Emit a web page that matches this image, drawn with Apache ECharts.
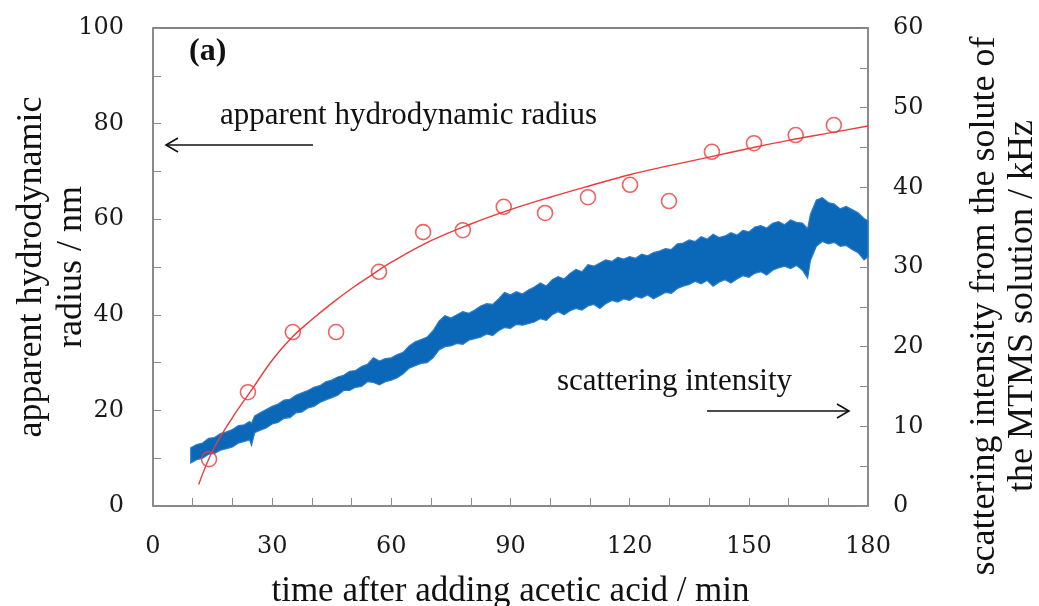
<!DOCTYPE html>
<html>
<head>
<meta charset="utf-8">
<script src="https://cdn.jsdelivr.net/npm/echarts@6/dist/echarts.min.js"></script>
<style>
html,body{margin:0;padding:0;background:#fff;}
#chart{width:1039px;height:606px;}
</style>
</head>
<body>
<div id="chart"></div>
<script>
// ---- data ----
// apparent hydrodynamic radius (nm), measured points
const radiusTime = [14.1, 23.9, 35.2, 46.1, 56.9, 68.0, 78.0, 88.3, 98.7, 109.5, 120.1, 129.9, 140.7, 151.3, 161.8, 171.4, 180.2];
const radiusValue = [9.8, 23.8, 36.4, 36.4, 49.0, 57.3, 57.7, 62.6, 61.3, 64.6, 67.2, 63.8, 74.1, 75.9, 77.6, 79.7, 81.2];
// fitted curve
const fitTime = [11.5, 15, 20, 25, 30, 35, 40, 45, 50, 55, 60, 70, 80, 90, 100, 110, 120, 130, 140, 150, 160, 170, 180];
const fitValue = [4.5, 11.5, 18.5, 24.5, 30.5, 35.3, 39.0, 42.4, 45.5, 48.3, 51.0, 55.5, 59.0, 62.0, 64.6, 67.0, 69.3, 71.2, 73.0, 74.8, 76.5, 78.0, 79.5];
// scattering intensity (kHz): lower / upper envelope of the noisy trace
const blueTime = [9.5, 11, 12.5, 14, 15.5, 17, 18.5, 20, 21.5, 23, 24.3, 24.8, 25.6, 27, 28.5, 30, 31.5, 33, 34.5, 36, 37.5, 39, 40.5, 42, 43.5, 45, 46.5, 48, 49.5, 51, 52.5, 54, 55.5, 57, 58.5, 60, 61.5, 63, 64.5, 66, 67.5, 69, 70.5, 72, 73.5, 75, 76.5, 78, 79.5, 81, 82.5, 84, 85.5, 87, 88.5, 90, 91.5, 93, 94.5, 96, 97.5, 99, 100.5, 102, 103.5, 105, 106.5, 108, 109.5, 111, 112.5, 114, 115.5, 117, 118.5, 120, 121.5, 123, 124.5, 126, 127.5, 129, 130.5, 132, 133.5, 135, 136.5, 138, 139.5, 141, 142.5, 144, 145.5, 147, 148.5, 150, 151.5, 153, 154.5, 156, 157.5, 159, 160.5, 162, 163.5, 164.8, 165.5, 167, 168.5, 170, 171.5, 173, 174.5, 176, 177.5, 179, 180];
const blueLow = [5.4, 5.8, 6.0, 6.5, 6.6, 7.0, 7.2, 7.4, 7.9, 8.1, 8.3, 7.6, 9.2, 9.5, 9.8, 10.3, 10.5, 11.0, 11.1, 11.7, 11.8, 12.3, 12.5, 13.0, 13.3, 13.6, 13.9, 14.5, 14.5, 14.9, 15.0, 15.6, 15.5, 15.2, 15.6, 15.8, 16.1, 16.6, 17.3, 17.6, 17.9, 18.0, 18.6, 19.6, 20.0, 20.1, 20.4, 20.3, 20.8, 21.0, 21.2, 21.6, 21.4, 22.0, 22.4, 22.3, 22.8, 22.7, 22.9, 23.1, 23.5, 23.3, 24.0, 24.4, 24.0, 24.5, 24.8, 24.6, 25.1, 25.3, 24.8, 25.4, 25.8, 25.6, 26.0, 25.8, 26.3, 26.1, 26.5, 26.0, 26.4, 26.8, 26.7, 27.3, 27.6, 27.8, 28.2, 27.9, 28.3, 27.6, 28.1, 28.4, 28.0, 28.5, 28.9, 28.7, 29.2, 29.4, 29.0, 29.6, 29.9, 30.1, 29.8, 30.2, 29.6, 28.6, 30.8, 32.6, 33.2, 32.9, 33.1, 32.6, 32.7, 32.2, 31.8, 30.9, 31.3];
const blueHigh = [7.3, 7.7, 7.9, 8.5, 8.6, 9.1, 9.3, 9.6, 10.1, 10.2, 10.6, 10.4, 11.3, 11.7, 12.1, 12.5, 12.8, 13.3, 13.4, 13.9, 14.2, 14.5, 14.9, 15.1, 15.6, 15.8, 16.2, 16.4, 16.9, 17.0, 17.5, 17.8, 18.6, 18.2, 18.5, 18.6, 19.0, 19.3, 20.1, 20.6, 20.9, 21.2, 22.0, 23.2, 23.9, 23.6, 24.0, 24.4, 24.2, 24.6, 25.1, 25.4, 25.3, 26.0, 26.8, 26.5, 26.9, 26.6, 27.1, 27.5, 28.0, 27.6, 28.4, 28.8, 28.5, 29.2, 29.7, 29.4, 30.3, 30.1, 30.5, 30.9, 30.7, 31.2, 31.0, 31.3, 31.1, 31.6, 31.4, 31.8, 32.0, 32.3, 32.2, 32.9, 33.0, 33.4, 33.2, 33.8, 33.5, 34.1, 33.7, 33.9, 34.3, 34.0, 34.6, 34.4, 35.0, 35.2, 34.9, 35.5, 35.7, 35.3, 35.9, 35.6, 35.5, 34.8, 36.6, 38.4, 38.7, 38.1, 37.9, 37.3, 37.6, 37.2, 36.8, 36.1, 35.8];
// axes
const xTicks = [0, 30, 60, 90, 120, 150, 180];
const leftTicks = [0, 20, 40, 60, 80, 100];
const rightTicks = [0, 10, 20, 30, 40, 50, 60];

const numFont = '"DejaVu Serif", serif';
const txtFont = '"Liberation Serif", "Times New Roman", serif';
const axisGray = '#8c8c8c';

const chart = echarts.init(document.getElementById('chart'), null, {renderer: 'canvas'});

const option = {
  animation: false,
  backgroundColor: '#ffffff',
  grid: {left: 153, right: 171, top: 28, bottom: 100, containLabel: false, outerBoundsMode: 'none',
         show: true, borderColor: '#5a5a5a', borderWidth: 1.5, backgroundColor: 'transparent'},
  xAxis: {
    type: 'value', min: 0, max: 180, interval: 10,
    name: 'time after adding acetic acid / min', nameLocation: 'middle', nameGap: 68, nameMoveOverlap: false,
    nameTextStyle: {fontFamily: txtFont, fontSize: 35, color: '#111'},
    axisLine: {show: true, lineStyle: {color: axisGray, width: 1.5}},
    axisTick: {show: true, inside: true, length: 8, lineStyle: {color: axisGray}},
    splitLine: {show: false},
    axisLabel: {
      fontFamily: numFont, fontSize: 24, color: '#1a1a1a', margin: 29,
      formatter: v => (xTicks.indexOf(v) >= 0 ? String(v) : '')
    }
  },
  yAxis: [
    {
      type: 'value', min: 0, max: 100, interval: 10, position: 'left',
      name: 'apparent hydrodynamic\nradius / nm', nameLocation: 'middle', nameGap: 61, nameRotate: 90, nameMoveOverlap: false,
      nameTextStyle: {fontFamily: txtFont, fontSize: 36, color: '#111', lineHeight: 40},
      axisLine: {show: true, lineStyle: {color: axisGray, width: 1.5}},
      axisTick: {show: true, inside: true, length: 8, lineStyle: {color: axisGray}},
      splitLine: {show: false},
      axisLabel: {
        fontFamily: numFont, fontSize: 24, color: '#1a1a1a', margin: 29,
        formatter: v => (leftTicks.indexOf(v) >= 0 ? String(v) : '')
      }
    },
    {
      type: 'value', min: 0, max: 60, interval: 5, position: 'right',
      name: 'scattering intensity from the solute of\nthe MTMS solution / kHz', nameLocation: 'middle', nameGap: 98, nameRotate: 90, nameMoveOverlap: false,
      nameTextStyle: {fontFamily: txtFont, fontSize: 36, color: '#111', lineHeight: 38, padding: [0, 78, 0, 0]},
      axisLine: {show: true, lineStyle: {color: axisGray, width: 1.5}},
      axisTick: {show: true, inside: true, length: 8, lineStyle: {color: axisGray}},
      splitLine: {show: false},
      axisLabel: {
        fontFamily: numFont, fontSize: 24, color: '#1a1a1a', margin: 25,
        formatter: v => (rightTicks.indexOf(v) >= 0 ? String(v) : '')
      }
    }
  ],
  series: [
    {
      name: 'scattering intensity', type: 'custom', yAxisIndex: 1, z: 1,
      data: blueTime.map((t, i) => [t, blueLow[i], blueHigh[i]]),
      encode: {x: 0, y: [1, 2]},
      renderItem: function (params, api) {
        if (params.dataIndex !== 0) return null;
        const pts = [];
        for (let i = 0; i < blueTime.length; i++) pts.push(api.coord([blueTime[i], blueHigh[i]]));
        for (let i = blueTime.length - 1; i >= 0; i--) pts.push(api.coord([blueTime[i], blueLow[i]]));
        return {
          type: 'polygon',
          shape: {points: pts},
          style: {fill: '#0b68b9', stroke: '#2a7cc6', lineWidth: 1.2}
        };
      }
    },
    {
      name: 'fit', type: 'line', yAxisIndex: 0, z: 3,
      data: fitTime.map((t, i) => [t, fitValue[i]]),
      smooth: 0.4, showSymbol: false, symbol: 'none',
      lineStyle: {color: '#ec3b3b', width: 1.4}
    },
    {
      name: 'apparent hydrodynamic radius', type: 'scatter', yAxisIndex: 0, z: 4,
      data: radiusTime.map((t, i) => [t, radiusValue[i]]),
      symbol: 'circle', symbolSize: 15,
      itemStyle: {color: 'rgba(255,255,255,0)', borderColor: '#ee3a3a', borderWidth: 1.6}
    }
  ],
  graphic: [
    {type: 'text', left: 189, top: 36, z: 10,
     style: {text: '(a)', font: 'bold 32px "Liberation Serif", serif', fill: '#111'}},
    {type: 'text', left: 220, top: 100, z: 10,
     style: {text: 'apparent hydrodynamic radius', font: '31px "Liberation Serif", serif', fill: '#111'}},
    {type: 'line', z: 10, shape: {x1: 313, y1: 145, x2: 166, y2: 145}, style: {stroke: '#111', lineWidth: 1.6}},
    {type: 'polyline', z: 10, shape: {points: [[178, 138], [166, 145], [178, 152]]}, style: {stroke: '#111', lineWidth: 1.6, fill: null}},
    {type: 'text', left: 557, top: 366, z: 10,
     style: {text: 'scattering intensity', font: '31px "Liberation Serif", serif', fill: '#111'}},
    {type: 'line', z: 10, shape: {x1: 707, y1: 411, x2: 849, y2: 411}, style: {stroke: '#111', lineWidth: 1.6}},
    {type: 'polyline', z: 10, shape: {points: [[837, 404], [849, 411], [837, 418]]}, style: {stroke: '#111', lineWidth: 1.6, fill: null}}
  ]
};
chart.setOption(option);
</script>
</body>
</html>
